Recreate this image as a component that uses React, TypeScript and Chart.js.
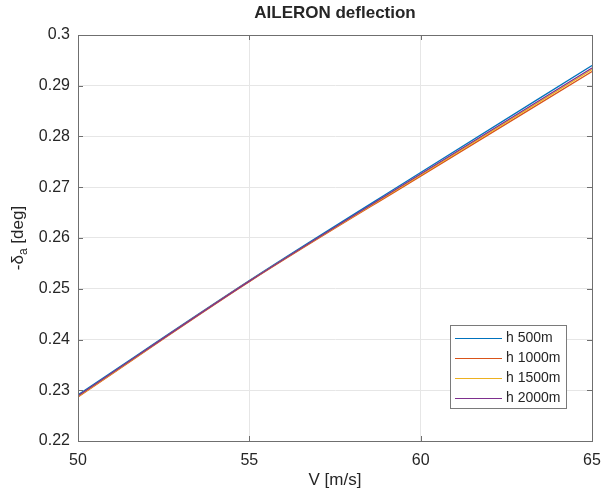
import React, { useEffect, useRef } from "react";
import { Chart, registerables } from "chart.js";

Chart.register(...registerables);

const titleText = "AILERON deflection";
const xLabel = "V [m/s]";
const velocities = [50, 55, 60, 65];
const h500 = [0.2291, 0.2516, 0.2729, 0.2940];
const h1000 = [0.2287, 0.2514, 0.2722, 0.2928];
const h1500 = [0.2288, 0.2515, 0.2724, 0.2932];
const h2000 = [0.2289, 0.2515, 0.2726, 0.2935];
const seriesNames = ["h 500m", "h 1000m", "h 1500m", "h 2000m"];
const seriesColors = ["#0072BD", "#D95319", "#EDB120", "#7E2F8E"];
const xTicks = [50, 55, 60, 65];
const yTicks = [0.22, 0.23, 0.24, 0.25, 0.26, 0.27, 0.28, 0.29, 0.3];

const FONT = "'Liberation Sans', Arial, Helvetica, sans-serif";
const TEXT = "#262626";
const AXIS = "#6f6f6f";

const decor = {
  id: "decor",
  afterDraw(chart: any) {
    const ctx = chart.ctx as CanvasRenderingContext2D;
    const a = chart.chartArea;
    const xs = chart.scales.x;
    const ys = chart.scales.y;
    ctx.save();
    ctx.strokeStyle = AXIS;
    ctx.lineWidth = 1;
    ctx.strokeRect(Math.round(a.left) + 0.5, Math.round(a.top) + 0.5, Math.round(a.right - a.left), Math.round(a.bottom - a.top));
    const tl = 5;
    ctx.beginPath();
    xTicks.forEach((v) => {
      const px = Math.round(xs.getPixelForValue(v)) + 0.5;
      ctx.moveTo(px, a.bottom);
      ctx.lineTo(px, a.bottom - tl);
      ctx.moveTo(px, a.top);
      ctx.lineTo(px, a.top + tl);
    });
    yTicks.forEach((v) => {
      const py = Math.round(ys.getPixelForValue(v)) + 0.5;
      ctx.moveTo(a.left, py);
      ctx.lineTo(a.left + tl, py);
      ctx.moveTo(a.right, py);
      ctx.lineTo(a.right - tl, py);
    });
    ctx.stroke();
    ctx.fillStyle = TEXT;
    ctx.font = `bold 17px ${FONT}`;
    ctx.textAlign = "center";
    ctx.textBaseline = "middle";
    ctx.fillText(titleText, (a.left + a.right) / 2, 13);
    ctx.font = `17px ${FONT}`;
    ctx.fillText(xLabel, (a.left + a.right) / 2, 480);
    ctx.save();
    ctx.translate(18, (a.top + a.bottom) / 2);
    ctx.rotate(-Math.PI / 2);
    const p1 = "-δ";
    const sub = "a";
    const p2 = " [deg]";
    ctx.font = `17px ${FONT}`;
    const w1 = ctx.measureText(p1).width;
    const w3 = ctx.measureText(p2).width;
    ctx.font = `12px ${FONT}`;
    const w2 = ctx.measureText(sub).width;
    const total = w1 + w2 + w3;
    let cx = -total / 2;
    ctx.textAlign = "left";
    ctx.textBaseline = "middle";
    ctx.font = `17px ${FONT}`;
    ctx.fillText(p1, cx, 0);
    cx += w1;
    ctx.font = `12px ${FONT}`;
    ctx.fillText(sub, cx, 6);
    cx += w2;
    ctx.font = `17px ${FONT}`;
    ctx.fillText(p2, cx, 0);
    ctx.restore();
    const lx = 450, ly = 325, lw = 116, lh = 83;
    ctx.fillStyle = "#ffffff";
    ctx.fillRect(lx, ly, lw, lh);
    ctx.strokeStyle = "#7a7a7a";
    ctx.lineWidth = 1;
    ctx.strokeRect(lx + 0.5, ly + 0.5, lw, lh);
    ctx.font = `14px ${FONT}`;
    ctx.textAlign = "left";
    ctx.textBaseline = "middle";
    seriesNames.forEach((n, i) => {
      const yy = 338 + i * 20;
      ctx.strokeStyle = seriesColors[i];
      ctx.lineWidth = 1.2;
      ctx.beginPath();
      ctx.moveTo(455, yy + 0.5);
      ctx.lineTo(502, yy + 0.5);
      ctx.stroke();
      ctx.fillStyle = TEXT;
      ctx.fillText(n, 506, yy);
    });
    ctx.restore();
  },
};

export default function App() {
  const ref = useRef<HTMLCanvasElement | null>(null);
  useEffect(() => {
    if (!ref.current) return;
    const all = [h500, h1000, h1500, h2000];
    const chart = new Chart(ref.current, {
      type: "line",
      data: {
        datasets: all.map((s, i) => ({
          label: seriesNames[i],
          data: s.map((y, j) => ({ x: velocities[j], y })),
          borderColor: seriesColors[i],
          backgroundColor: seriesColors[i],
          borderWidth: 1.3,
          pointRadius: 0,
          cubicInterpolationMode: "monotone" as const,
          fill: false,
          order: 4 - i,
        })),
      },
      options: {
        animation: false,
        responsive: true,
        maintainAspectRatio: false,
        layout: { padding: { top: 35, right: 11, left: 0, bottom: 0 } },
        plugins: { legend: { display: false }, title: { display: false }, tooltip: { enabled: false } },
        scales: {
          x: {
            type: "linear",
            min: 50,
            max: 65,
            afterBuildTicks: (s: any) => { s.ticks = xTicks.map((v) => ({ value: v })); },
            afterFit: (s: any) => { s.height = 50; s.paddingLeft = 0; s.paddingRight = 0; },
            grid: { color: "#e6e6e6", drawTicks: false, lineWidth: 1 },
            border: { color: AXIS },
            ticks: { color: TEXT, font: { family: FONT, size: 16 }, padding: 10, maxRotation: 0, callback: (v: any) => String(v) },
          },
          y: {
            type: "linear",
            min: 0.22,
            max: 0.3,
            afterBuildTicks: (s: any) => { s.ticks = yTicks.map((v) => ({ value: v })); },
            afterFit: (s: any) => { s.width = 78; s.paddingTop = 0; s.paddingBottom = 0; },
            grid: { color: "#e6e6e6", drawTicks: false, lineWidth: 1 },
            border: { color: AXIS },
            ticks: { color: TEXT, font: { family: FONT, size: 16 }, padding: 8, callback: (v: any) => String(Math.round(v * 100) / 100) },
          },
        },
      },
      plugins: [decor],
    });
    return () => chart.destroy();
  }, []);
  return (
    <div style={{ position: "fixed", left: 0, top: 0, width: 603, height: 491, background: "#fff" }}>
      <canvas ref={ref} />
    </div>
  );
}
